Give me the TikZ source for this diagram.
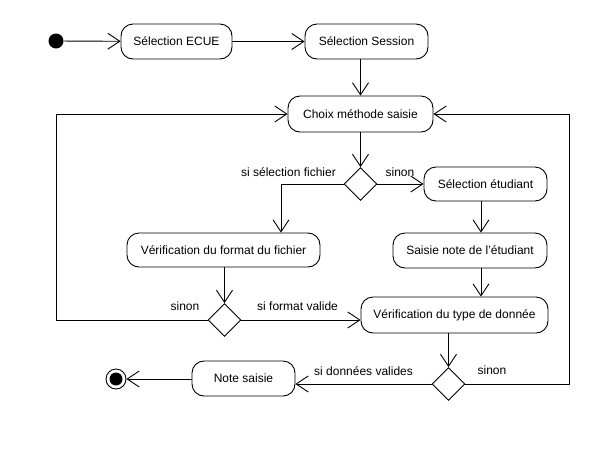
\documentclass[tikz,border=0pt]{standalone}
\usepackage{fontspec}
\setmainfont{Liberation Sans}
\usetikzlibrary{arrows.meta,shapes.geometric}
\begin{document}
\begin{tikzpicture}[x=1pt,y=-1pt,
  every node/.style={font=\fontsize{12}{14}\selectfont},
  act/.style={draw,line width=0.9pt,rounded corners=12pt,fill=white,inner sep=0pt,minimum height=35pt},
  dec/.style={draw,line width=0.9pt,diamond,fill=white,inner sep=0pt,minimum width=33pt,minimum height=33pt},
  flow/.style={line width=0.9pt,-{Straight Barb[length=12pt,width=16pt,line width=0.9pt]}},
  line/.style={line width=0.9pt},
  lbl/.style={inner sep=0pt}]
\useasboundingbox (0,0) rectangle (616,475);
\node[circle,fill=black,inner sep=0pt,minimum size=15pt] (start) at (56,41) {};
\node[act,minimum width=111pt] (ecue) at (176.5,41.5) {Sélection ECUE};
\node[act,minimum width=123pt] (session) at (366.5,41.5) {Sélection Session};
\node[act,minimum width=145pt,minimum height=36pt] (choix) at (360.5,114) {Choix méthode saisie};
\node[dec] (d1) at (360.5,184) {};
\node[act,minimum width=123pt,minimum height=34pt] (etud) at (485.5,184) {Sélection étudiant};
\node[act,minimum width=193pt,minimum height=34pt] (fmt) at (223.5,250) {Vérification du format du fichier};
\node[act,minimum width=154pt] (saisie) at (470,250.5) {Saisie note de l'étudiant};
\node[dec] (d2) at (224.5,320) {};
\node[act,minimum width=187pt,minimum height=36pt] (vtype) at (454.5,315) {Vérification du type de donnée};
\node[dec] (d3) at (448.5,384) {};
\node[act,minimum width=103pt] (note) at (243.5,378.5) {Note saisie};
\node[circle,draw,line width=0.9pt,fill=white,inner sep=0pt,minimum size=20pt] (end) at (116,379) {};
\node[circle,fill=black,inner sep=0pt,minimum size=13pt] (endin) at (end) {};
\coordinate (lloop) at (56,114);
\coordinate (rloop) at (569,114);
% labels
\node[lbl,anchor=east] (l1) at (336,172) {si sélection fichier};
\node[lbl] (l2) at (400,172) {sinon};
\node[lbl] (l3) at (185,306) {sinon};
\node[lbl,anchor=west] (l4) at (257,306) {si format valide};
\node[lbl,anchor=west] (l5) at (314,371) {si données valides};
\node[lbl] (l6) at (492,370) {sinon};
% connectors
\draw[flow] (start) -- (ecue);
\draw[flow] (ecue) -- (session);
\draw[flow] (choix.north |- session.south) -- (choix.north);
\draw[flow] (choix) -- (d1);
\draw[flow] (d1.west) -| ([xshift=57.5pt]fmt.north);
\draw[flow] (d1.east) -- (etud.west);
\draw[flow] ([xshift=-4.5pt]etud.south) -- ([xshift=11pt]saisie.north);
\draw[flow] ([xshift=11pt]saisie.south) -- ([xshift=26.5pt]vtype.north);
\draw[flow] (d2.north |- fmt.south) -- (d2.north);
\draw[flow] (d2.east) -- (vtype.west |- d2.east);
\draw[line] (d2.west) -- (lloop |- d2.west) -- (lloop);
\draw[flow] (lloop) -- (choix.west);
\draw[flow] (d3.north |- vtype.south) -- (d3.north);
\draw[line] (d3.east) -| (rloop);
\draw[flow] (rloop) -- (choix.east);
\draw[flow] (d3.west) -- (note.east |- d3.west);
\draw[flow] (note.west |- end) -- (end);
\end{tikzpicture}
\end{document}
